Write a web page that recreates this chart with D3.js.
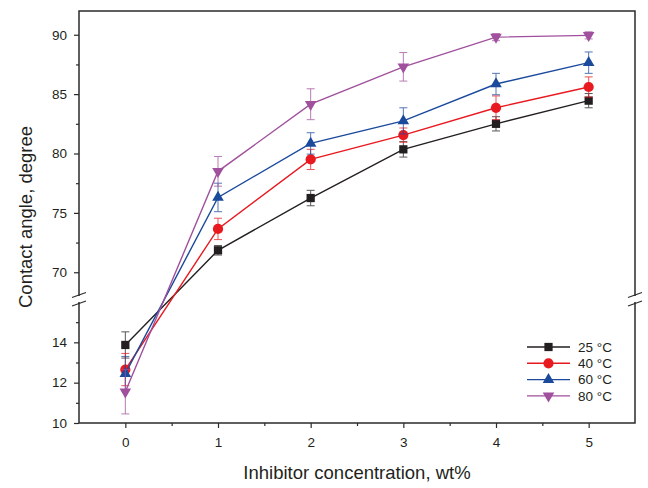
<!DOCTYPE html>
<html lang="en">
<head>
<meta charset="utf-8">
<title>Contact angle</title>
<script src="https://cdn.jsdelivr.net/npm/d3@7/dist/d3.min.js"></script>
<style>
  body { margin: 0; background: #fff; }
  text { font-family: "Liberation Sans", Arial, sans-serif; fill: #231f20; }
</style>
</head>
<body>
<script>
// data
var conc = [0, 1, 2, 3, 4, 5];
var labels = ["25 °C", "40 °C", "60 °C", "80 °C"];
var t25 = [13.87, 71.85, 76.25, 80.35, 82.5, 84.45];
var t40 = [12.65, 73.65, 79.5, 81.55, 83.85, 85.6];
var t60 = [12.45, 76.3, 80.85, 82.75, 85.85, 87.65];
var t80 = [11.55, 78.5, 84.15, 87.3, 89.8, 89.95];
var e25 = [0.65, 0.4, 0.65, 0.65, 0.6, 0.6];
var e40 = [0.8, 0.9, 0.85, 0.6, 1.0, 0.85];
var e60 = [0.85, 1.2, 0.9, 1.1, 0.9, 0.9];
var e80 = [1.1, 1.25, 1.3, 1.2, 0.3, 0.3];
var colors = ["#231f20", "#e8191f", "#1b4a9c", "#a0509d"];
var lowTicks = [10, 12, 14];
var highTicks = [70, 75, 80, 85, 90];

var W = 648, H = 488;
var L = 79, R = 635, T = 11, B = 423;
var breakTop = 296, breakBot = 302;

var svg = d3.select("body").append("svg")
    .attr("width", W)
    .attr("height", H);

var x = d3.scaleLinear().domain([-0.5, 5.5]).range([L, R]);
var yLow = d3.scaleLinear().domain([10, 16]).range([B, breakBot]);
var yHigh = d3.scaleLinear().domain([68, 92]).range([breakTop, T]);
function y(v) { return v < 40 ? yLow(v) : yHigh(v); }

var series = [
  {vals: t25, err: e25, sym: d3.symbolSquare, size: 68, rot: 0},
  {vals: t40, err: e40, sym: d3.symbolCircle, size: 82, rot: 0},
  {vals: t60, err: e60, sym: d3.symbolTriangle, size: 58, rot: 0},
  {vals: t80, err: e80, sym: d3.symbolTriangle, size: 58, rot: 180}
];

// axes
var axisCol = "#2b2b2b";
var gx = svg.append("g").attr("transform", "translate(0," + B + ")");
gx.call(d3.axisBottom(x).tickValues(conc).tickSize(5).tickFormat(d3.format("d")));
gx.append("g").call(d3.axisBottom(x).tickValues([0.5, 1.5, 2.5, 3.5, 4.5]).tickSize(3).tickFormat(""));

var gyl = svg.append("g").attr("transform", "translate(" + L + ",0)");
gyl.call(d3.axisLeft(yLow).tickValues(lowTicks).tickSize(5).tickFormat(d3.format("d")));
gyl.append("g").call(d3.axisLeft(yLow).tickValues([11, 13, 15]).tickSize(3).tickFormat(""));
var gyh = svg.append("g").attr("transform", "translate(" + L + ",0)");
gyh.call(d3.axisLeft(yHigh).tickValues(highTicks).tickSize(5).tickFormat(d3.format("d")));
gyh.append("g").call(d3.axisLeft(yHigh).tickValues([72.5, 77.5, 82.5, 87.5]).tickSize(3).tickFormat(""));

svg.selectAll(".domain").remove();
svg.selectAll(".tick line").attr("stroke", axisCol).attr("stroke-width", 1.2);
svg.selectAll(".tick text").attr("font-size", 13.5).style("fill", "#231f20")
    .attr("font-family", "Liberation Sans, Arial, sans-serif");
gx.selectAll(".tick text").attr("dy", "1.2em");
gyl.selectAll(".tick text").attr("x", -12);
gyh.selectAll(".tick text").attr("x", -12);

// frame with breaks
var fr = svg.append("g").attr("stroke", axisCol).attr("stroke-width", 1.5).attr("fill", "none");
fr.append("path").attr("d", "M" + L + "," + breakTop + "V" + T + "H" + R + "V" + breakTop);
fr.append("path").attr("d", "M" + L + "," + breakBot + "V" + B + "H" + R + "V" + breakBot);
[L, R].forEach(function (bx) {
  fr.append("line").attr("x1", bx - 7).attr("y1", breakTop + 1.5).attr("x2", bx + 7).attr("y2", breakTop - 3.5).attr("stroke-width", 1.2);
  fr.append("line").attr("x1", bx - 7).attr("y1", breakBot + 4).attr("x2", bx + 7).attr("y2", breakBot - 1).attr("stroke-width", 1.2);
});

// series
var line = d3.line().x(function (d, i) { return x(conc[i]); }).y(function (d) { return y(d); });
series.forEach(function (s, k) {
  var g = svg.append("g");
  g.append("path").datum(s.vals).attr("d", line)
      .attr("fill", "none").attr("stroke", colors[k]).attr("stroke-width", 1.4);
  var eb = g.selectAll(".eb").data(s.vals).enter().append("g")
      .attr("stroke", colors[k]).attr("stroke-width", 1).attr("opacity", 0.75);
  eb.append("line")
      .attr("x1", function (d, i) { return x(conc[i]); })
      .attr("x2", function (d, i) { return x(conc[i]); })
      .attr("y1", function (d, i) { return y(d + s.err[i]); })
      .attr("y2", function (d, i) { return y(d - s.err[i]); });
  [1, -1].forEach(function (sg) {
    eb.append("line")
        .attr("x1", function (d, i) { return x(conc[i]) - 4; })
        .attr("x2", function (d, i) { return x(conc[i]) + 4; })
        .attr("y1", function (d, i) { return y(d + sg * s.err[i]); })
        .attr("y2", function (d, i) { return y(d + sg * s.err[i]); });
  });
  g.selectAll(".m").data(s.vals).enter().append("path")
      .attr("d", d3.symbol().type(s.sym).size(s.size))
      .attr("transform", function (d, i) {
        return "translate(" + x(conc[i]) + "," + y(d) + ") rotate(" + s.rot + ")";
      })
      .attr("fill", colors[k]);
});

// legend
var lg = svg.append("g").attr("transform", "translate(527,347)");
series.forEach(function (s, k) {
  var row = lg.append("g").attr("transform", "translate(0," + (k * 16.3) + ")");
  row.append("line").attr("x1", 0).attr("x2", 43).attr("stroke", colors[k]).attr("stroke-width", 1.4);
  row.append("path").attr("d", d3.symbol().type(s.sym).size(s.size))
      .attr("transform", "translate(21.5,0) rotate(" + s.rot + ")").attr("fill", colors[k]);
  row.append("text").attr("x", 51).attr("y", 4.8).attr("font-size", 13.5).text(labels[k]);
});

// axis titles
svg.append("text").attr("x", 357).attr("y", 479).attr("text-anchor", "middle")
    .attr("font-size", 18.5).text("Inhibitor concentration, wt%");
svg.append("text").attr("transform", "translate(32,217) rotate(-90)").attr("text-anchor", "middle")
    .attr("font-size", 18.5).text("Contact angle, degree");
</script>
</body>
</html>
